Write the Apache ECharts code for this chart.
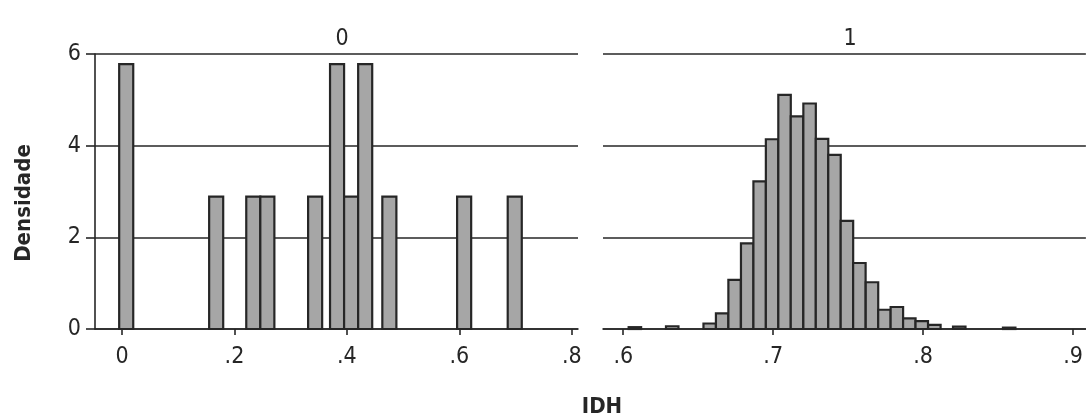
<!DOCTYPE html>
<html>
<head>
<meta charset="utf-8">
<script src="https://cdn.jsdelivr.net/npm/echarts@6/dist/echarts.min.js"></script>
<style>
html,body{margin:0;padding:0;background:#fff;}
#chart{width:1086px;height:418px;}
</style>
</head>
<body>
<div id="chart"></div>
<script>
// ---- data ----
const panelTitles = ['0', '1'];
const yTicks = [0, 2, 4, 6];
const leftXTicks = [0, 0.2, 0.4, 0.6, 0.8];
const rightXTicks = [0.6, 0.7, 0.8, 0.9];

const leftBinWidth = 0.025;
const leftBinStart = [-0.005, 0.155, 0.221, 0.246, 0.331, 0.370, 0.395, 0.420, 0.463, 0.596, 0.686];
const leftDensity  = [5.78, 2.89, 2.89, 2.89, 2.89, 5.78, 2.89, 5.78, 2.89, 2.89, 2.89];

const rightBinWidth = 0.00832;
const rightBinStart = [0.6036, 0.6285, 0.6535, 0.6618, 0.6701, 0.6785, 0.6868, 0.6951, 0.7034, 0.7117,
                       0.7201, 0.7284, 0.7367, 0.7450, 0.7533, 0.7617, 0.7700, 0.7783, 0.7866, 0.7949,
                       0.8033, 0.8199, 0.8532];
const rightDensity  = [0.04, 0.06, 0.12, 0.34, 1.07, 1.87, 3.22, 4.14, 5.11, 4.64,
                       4.92, 4.15, 3.80, 2.36, 1.44, 1.02, 0.42, 0.48, 0.23, 0.17,
                       0.09, 0.05, 0.03];

const yAxisName = 'Densidade';
const xAxisName = 'IDH';

// ---- build ----
const FONT = '"Liberation Sans Narrow", "DejaVu Sans Condensed", "Arial Narrow", "Liberation Sans", sans-serif';
const INK = '#262626';

function rows(starts, w, dens) {
  return starts.map((s, i) => [s, s + w, dens[i]]);
}
function renderBin(params, api) {
  const p0 = api.coord([api.value(0), api.value(2)]);
  const p1 = api.coord([api.value(1), 0]);
  return {
    type: 'rect',
    shape: { x: p0[0], y: p0[1], width: p1[0] - p0[0], height: p1[1] - p0[1] },
    style: { fill: '#a6a6a6', stroke: INK, lineWidth: 2.2 }
  };
}
function fmt(v) {
  if (Math.abs(v) < 1e-9) return '0';
  return String(Math.round(v * 10) / 10).replace(/^0/, '');
}

const chart = echarts.init(document.getElementById('chart'), null, { renderer: 'canvas' });
const axisLabelStyle = { color: INK, fontFamily: FONT, fontSize: 23 };
const lineStyle = { color: INK, width: 1.6 };

chart.setOption({
  backgroundColor: '#fff',
  animation: false,
  title: [
    { text: panelTitles[0], left: 337, top: 23, textAlign: 'center',
      textStyle: { fontFamily: FONT, fontSize: 23, fontWeight: 'normal', color: INK } },
    { text: panelTitles[1], left: 845, top: 23, textAlign: 'center',
      textStyle: { fontFamily: FONT, fontSize: 23, fontWeight: 'normal', color: INK } },
    { text: xAxisName, left: 597, top: 391, textAlign: 'center',
      textStyle: { fontFamily: FONT, fontSize: 22, fontWeight: 'bold', color: INK } }
  ],
  graphic: [
    { type: 'text', x: 24, y: 203, rotation: Math.PI / 2,
      style: { text: yAxisName, fontFamily: FONT, fontSize: 22, fontWeight: 'bold', fill: INK,
               align: 'center', verticalAlign: 'middle' } }
  ],
  grid: [
    { left: 95, top: 54, width: 483, height: 275 },
    { left: 603, top: 54, width: 483, height: 275 }
  ],
  xAxis: [
    { type: 'value', gridIndex: 0, min: -0.048, max: 0.811,
      axisLine: { show: true, onZero: true, lineStyle: lineStyle },
      axisTick: { show: true, length: 6, customValues: leftXTicks, lineStyle: lineStyle },
      axisLabel: Object.assign({ margin: 17, customValues: leftXTicks, formatter: fmt }, axisLabelStyle),
      splitLine: { show: false } },
    { type: 'value', gridIndex: 1, min: 0.5865, max: 0.9085,
      axisLine: { show: true, onZero: true, lineStyle: lineStyle },
      axisTick: { show: true, length: 6, customValues: rightXTicks, lineStyle: lineStyle },
      axisLabel: Object.assign({ margin: 17, customValues: rightXTicks, formatter: fmt }, axisLabelStyle),
      splitLine: { show: false } }
  ],
  yAxis: [
    { type: 'value', gridIndex: 0, min: 0, max: 6, interval: 2,
      axisLine: { show: true, onZero: false, lineStyle: lineStyle },
      axisTick: { show: true, length: 9, lineStyle: lineStyle },
      axisLabel: Object.assign({ margin: 14, formatter: v => String(v) }, axisLabelStyle),
      splitLine: { show: true, lineStyle: lineStyle } },
    { type: 'value', gridIndex: 1, min: 0, max: 6, interval: 2,
      axisLine: { show: false }, axisTick: { show: false }, axisLabel: { show: false },
      splitLine: { show: true, lineStyle: lineStyle } }
  ],
  series: [
    { type: 'custom', xAxisIndex: 0, yAxisIndex: 0, renderItem: renderBin,
      data: rows(leftBinStart, leftBinWidth, leftDensity), encode: { x: [0, 1], y: 2 } },
    { type: 'custom', xAxisIndex: 1, yAxisIndex: 1, renderItem: renderBin,
      data: rows(rightBinStart, rightBinWidth, rightDensity), encode: { x: [0, 1], y: 2 } }
  ]
});
</script>
</body>
</html>
